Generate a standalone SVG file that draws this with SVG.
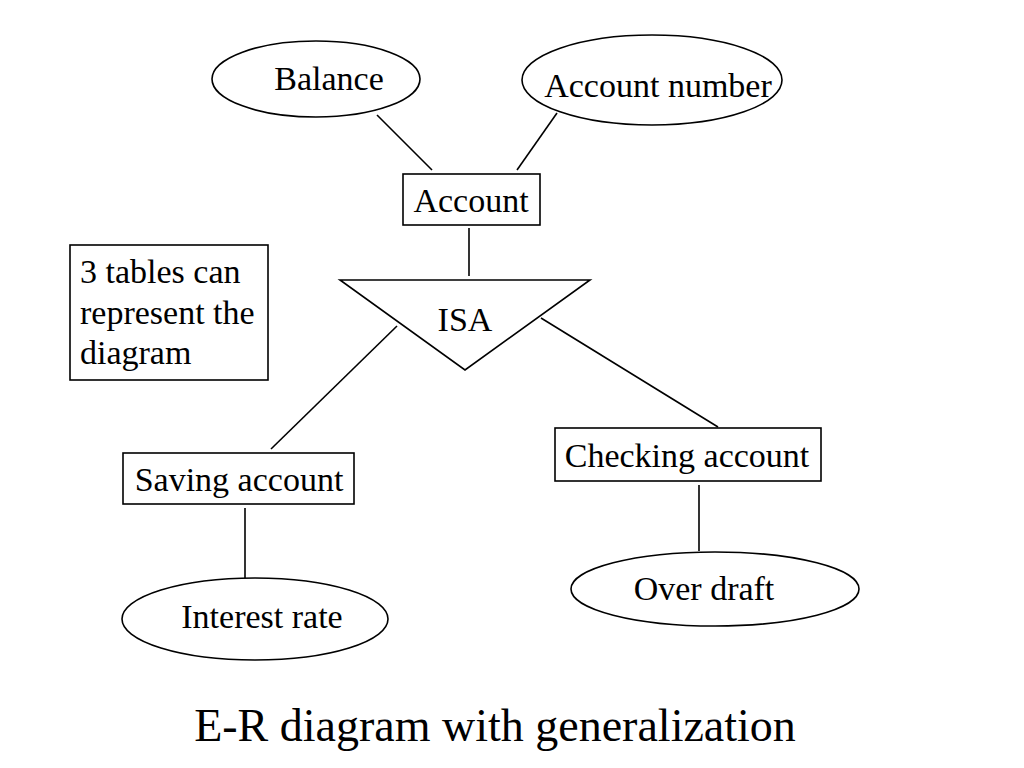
<svg xmlns="http://www.w3.org/2000/svg" width="1024" height="768" viewBox="0 0 1024 768">
<style>
.s{fill:#fff;stroke:#000;stroke-width:1.6}
.t{font-family:"Liberation Serif","Times New Roman",serif;font-size:34px;fill:#000;text-anchor:middle}
.c line{stroke:#000;stroke-width:1.6}
</style>
<rect width="1024" height="768" fill="#fff"/>
<g class="c" id="connectors">
<line x1="377" y1="115" x2="432" y2="170"/>
<line x1="557" y1="113" x2="517" y2="170"/>
<line x1="469" y1="228" x2="469" y2="276"/>
<line x1="397" y1="326" x2="271" y2="449"/>
<line x1="541" y1="318" x2="718" y2="427"/>
<line x1="245" y1="508" x2="245" y2="578"/>
<line x1="699" y1="485" x2="699" y2="551"/>
</g>
<g id="balance"><ellipse class="s" cx="316" cy="79" rx="104" ry="38"/><text class="t" x="329" y="90">Balance</text></g>
<g id="account-number"><ellipse class="s" cx="652" cy="80" rx="130" ry="45"/><text class="t" x="658" y="97">Account number</text></g>
<g id="account"><rect class="s" x="403" y="174" width="137" height="51"/><text class="t" x="471" y="212">Account</text></g>
<g id="isa"><polygon class="s" points="340,280 590,280 465,370"/><text class="t" x="465" y="331">ISA</text></g>
<g id="note"><rect class="s" x="70" y="245" width="198" height="135"/>
<text class="t" style="text-anchor:start" x="80" y="283">3 tables can</text>
<text class="t" style="text-anchor:start" x="80" y="324">represent the</text>
<text class="t" style="text-anchor:start" x="80" y="364">diagram</text></g>
<g id="saving"><rect class="s" x="123" y="453" width="231" height="51"/><text class="t" x="239" y="491">Saving account</text></g>
<g id="checking"><rect class="s" x="555" y="428" width="266" height="53"/><text class="t" x="687" y="467">Checking account</text></g>
<g id="interest"><ellipse class="s" cx="255" cy="619" rx="133" ry="41"/><text class="t" x="262" y="628">Interest rate</text></g>
<g id="overdraft"><ellipse class="s" cx="715" cy="589" rx="144" ry="37"/><text class="t" x="704" y="600">Over draft</text></g>
<text class="t" style="font-size:46px" x="495" y="741">E-R diagram with generalization</text>
</svg>
